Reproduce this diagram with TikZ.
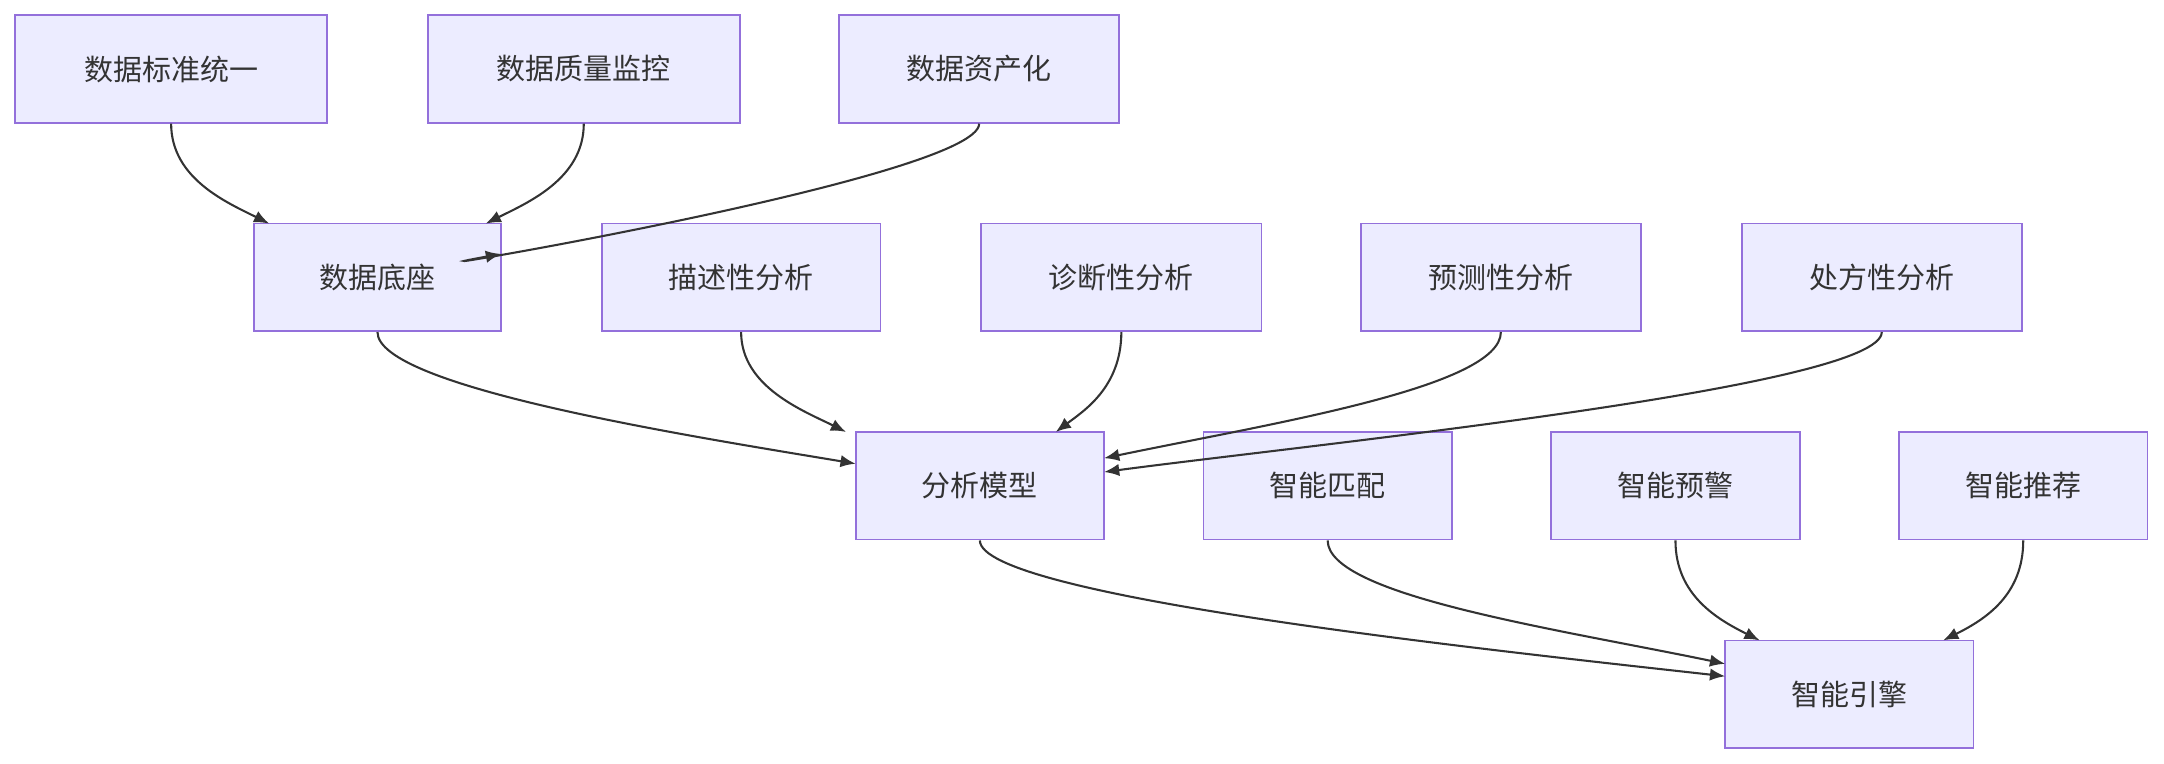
\documentclass[tikz,border=0pt]{standalone}
\usepackage{fontspec}
\newfontfamily\cjk{Noto Sans CJK SC}
\usetikzlibrary{arrows.meta}
\definecolor{nfill}{HTML}{ECECFF}
\definecolor{nline}{HTML}{9370DB}
\definecolor{eline}{HTML}{333333}
\begin{document}
\begin{tikzpicture}[x=1pt,y=-1pt,
  box/.style={draw=nline,fill=nfill,line width=1.2pt,inner sep=0pt,font=\cjk\fontsize{21}{24}\selectfont,text=eline},
  edge/.style={draw=eline,line width=1.5pt,-{Latex[length=11pt,width=9pt]}}]
\useasboundingbox (0,0) rectangle (1568,553);
\newcommand{\bx}[6]{\node[box,minimum width=#4-#2,minimum height=78] (#1) at ({(#2+#4)/2},{#3+39}) {#6};}
\bx{a1}{11}{11}{237}{}{数据标准统一}
\bx{a2}{310}{11}{536}{}{数据质量监控}
\bx{a3}{608}{11}{811}{}{数据资产化}
\bx{b0}{184}{162}{363}{}{数据底座}
\bx{b1}{436}{162}{638}{}{描述性分析}
\bx{b2}{711}{162}{914}{}{诊断性分析}
\bx{b3}{986}{162}{1189}{}{预测性分析}
\bx{b4}{1262}{162}{1465}{}{处方性分析}
\bx{c0}{620}{313}{800}{}{分析模型}
\bx{c1}{872}{313}{1052}{}{智能匹配}
\bx{c2}{1124}{313}{1304}{}{智能预警}
\bx{c3}{1376}{313}{1556}{}{智能推荐}
\bx{d0}{1250}{464}{1430}{}{智能引擎}
\begin{scope}[on background layer/.style={}]
\end{scope}
\coordinate (t1) at (195,162);
\coordinate (t2) at (352,162);
\coordinate (t3) at (363,184);
\coordinate (t4) at (620,336);
\coordinate (t5) at (613,313);
\coordinate (t6) at (765,313);
\coordinate (t7) at (800,332);
\coordinate (t8) at (800,342);
\coordinate (t9) at (1250,490);
\coordinate (t10) at (1250,481);
\coordinate (t11) at (1275,464);
\coordinate (t12) at (1408,464);
\draw[edge] (a1.south) .. controls +(0,40) and +(-30,-15) .. (t1);
\draw[edge] (a2.south) .. controls +(0,40) and +(30,-15) .. (t2);
\draw[edge] (a3.south) .. controls +(0,40) and +(-120,22) .. (t3);
\draw[edge] (b0.south) .. controls +(0,40) and +(-120,-20) .. (t4);
\draw[edge] (b1.south) .. controls +(0,40) and +(-30,-15) .. (t5);
\draw[edge] (b2.south) .. controls +(0,40) and +(20,-15) .. (t6);
\draw[edge] (b3.south) .. controls +(0,40) and +(120,-25) .. (t7);
\draw[edge] (b4.south) .. controls +(0,40) and +(150,-20) .. (t8);
\draw[edge] (c0.south) .. controls +(0,40) and +(-180,-20) .. (t9);
\draw[edge] (c1.south) .. controls +(0,40) and +(-120,-25) .. (t10);
\draw[edge] (c2.south) .. controls +(0,40) and +(-30,-15) .. (t11);
\draw[edge] (c3.south) .. controls +(0,40) and +(30,-15) .. (t12);
\foreach \n/\t in {b1/描述性分析,c1/智能匹配}{\node[box,minimum width=0,draw=none,fill=none] at (\n) {};}
\end{tikzpicture}
\end{document}
